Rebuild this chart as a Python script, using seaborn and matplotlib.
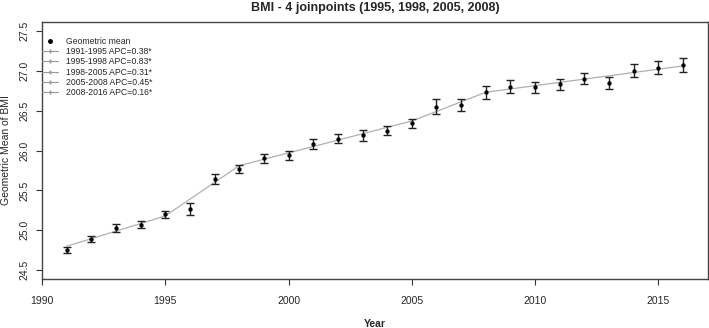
import numpy as np
import pandas as pd
import matplotlib
matplotlib.use('Agg')
import matplotlib.pyplot as plt
from matplotlib.lines import Line2D
import seaborn as sns

# 年份与几何均值
years = list(range(1991, 2017))
geo_mean = [24.75, 24.89, 25.03, 25.07, 25.20, 25.27, 25.64, 25.77, 25.90, 25.94,
            26.08, 26.15, 26.19, 26.25, 26.34, 26.55, 26.57, 26.73, 26.80, 26.79,
            26.83, 26.90, 26.85, 27.00, 27.04, 27.07]
half_ci = [0.04, 0.04, 0.045, 0.045, 0.045, 0.075, 0.06, 0.05, 0.06, 0.055,
           0.06, 0.06, 0.065, 0.06, 0.06, 0.09, 0.075, 0.08, 0.08, 0.07,
           0.07, 0.065, 0.075, 0.08, 0.08, 0.09]

# joinpoint 拟合线
fit_years = [1991, 1995, 1998, 2005, 2008, 2016]
fit_vals = [24.80, 25.18, 25.81, 26.37, 26.73, 27.06]
seg_labels = ['1991-1995 APC=0.38*', '1995-1998 APC=0.83*', '1998-2005 APC=0.31*',
              '2005-2008 APC=0.45*', '2008-2016 APC=0.16*']

sns.set_style("white")
plt.rcParams['font.family'] = ['Liberation Sans', 'DejaVu Sans']

df = pd.DataFrame({'Year': years, 'mean': geo_mean, 'ci': half_ci})
df_fit = pd.DataFrame({'Year': fit_years, 'fit': fit_vals})

fig = plt.figure(figsize=(7.09, 3.28), dpi=100)
ax = fig.add_axes([0.0592, 0.1494, 0.939, 0.7835])

sns.lineplot(data=df_fit, x='Year', y='fit', color='#b0b0b0', lw=0.9, ax=ax)
ax.errorbar(df['Year'], df['mean'], yerr=df['ci'], fmt='none', ecolor='#222222',
            elinewidth=1.0, capsize=3, capthick=1.0)
sns.scatterplot(data=df, x='Year', y='mean', color='black', s=8, marker='o',
                edgecolor='black', ax=ax, zorder=5)

ax.set_xlim(1990, 2017)
ax.set_ylim(24.39, 27.61)
ax.set_xticks([1990, 1995, 2000, 2005, 2010, 2015])
ax.set_yticks([24.5, 25.0, 25.5, 26.0, 26.5, 27.0, 27.5])
ax.set_yticklabels(['24.5', '25.0', '25.5', '26.0', '26.5', '27.0', '27.5'],
                   rotation=90, va='center')
ax.tick_params(axis='both', labelsize=7.5, length=4, width=0.8, color='#333333',
               direction='out', left=True, bottom=True)
ax.tick_params(axis='x', pad=8)
ax.tick_params(axis='y', pad=5)
for sp in ax.spines.values():
    sp.set_color('#444444')
    sp.set_linewidth(1.0)

ax.set_xlabel('Year', fontsize=7.5, fontweight='bold')
ax.xaxis.set_label_coords(0.5, -0.156)
ax.set_ylabel('Geometric Mean of BMI', fontsize=7.5)
ax.yaxis.set_label_coords(-0.046, 0.5)
ax.set_title('BMI - 4 joinpoints (1995, 1998, 2005, 2008)', fontsize=9,
             fontweight='bold', pad=8)

handles = [Line2D([], [], color='black', marker='o', ms=2.5, lw=0)]
for lab in seg_labels:
    handles.append(Line2D([], [], color='#999999', lw=0.8, marker='+', ms=3))
ax.legend(handles, ['Geometric mean'] + seg_labels, loc='upper left',
          frameon=False, fontsize=6.2, handlelength=1.9, handletextpad=0.9,
          labelspacing=0.12, borderpad=0.0, borderaxespad=0.0,
          bbox_to_anchor=(0.0, 0.94))

fig.savefig('out.png', dpi=100)
